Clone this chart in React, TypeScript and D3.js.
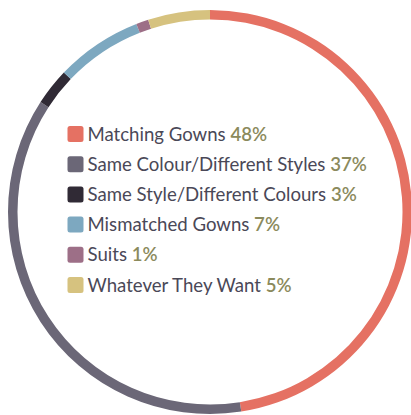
import React from "react";
import * as d3 from "d3";

const categories = [
  "Matching Gowns",
  "Same Colour/Different Styles",
  "Same Style/Different Colours",
  "Mismatched Gowns",
  "Suits",
  "Whatever They Want",
];
const values = [48, 37, 3, 7, 1, 5];
const colors = ["#E57163", "#6B6777", "#302A35", "#7DA8C0", "#9D6F87", "#D6C27F"];

const W = 411;
const H = 415;

export default function App() {
  const cx = 210;
  const cy = 212;
  const outerR = 202;
  const innerR = 192.5;
  const pie = d3.pie<number>().sort(null).value((d) => d);
  const arcs = pie(values);
  const arc = d3.arc<d3.PieArcDatum<number>>().innerRadius(innerR).outerRadius(outerR);

  const legendX = 67.5;
  const legendY0 = 134;
  const rowH = 30.2;
  const sw = 16;

  return (
    <svg
      width={W}
      height={H}
      style={{ position: "absolute", left: 0, top: 0, background: "#fff" }}
    >
      <g transform={`translate(${cx},${cy})`}>
        {arcs.map((a, i) => (
          <path key={i} d={arc(a) || ""} fill={colors[i]} />
        ))}
      </g>
      <g fontFamily="Lato, sans-serif" fontSize={18.6}>
        {categories.map((c, i) => {
          const y = legendY0 + i * rowH;
          return (
            <g key={c}>
              <rect x={legendX} y={y - sw / 2} width={sw} height={sw} rx={2.5} fill={colors[i]} />
              <text x={legendX + sw + 4} y={y} dy="0.36em" fill="#4A4857">
                {c}{" "}
                <tspan fill="#8B8A5C" fontWeight={600}>{values[i]}%</tspan>
              </text>
            </g>
          );
        })}
      </g>
    </svg>
  );
}
